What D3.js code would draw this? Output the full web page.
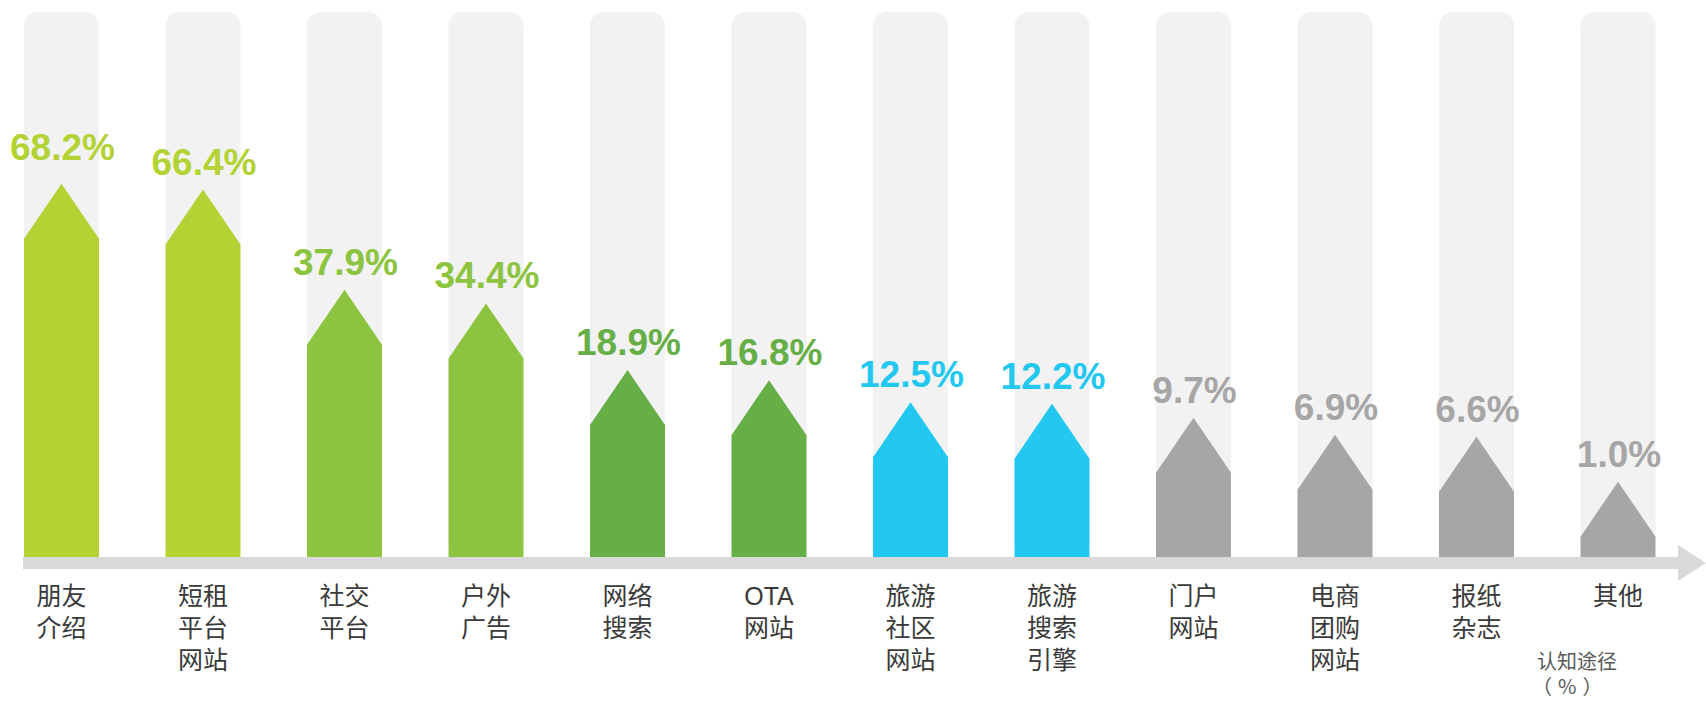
<!DOCTYPE html>
<html>
<head>
<meta charset="utf-8">
<script src="https://cdn.jsdelivr.net/npm/d3@7"></script>
<style>
  body { margin: 0; background: #fff; }
</style>
</head>
<body>
<div id="chart"></div>
<script>
// data
const categories = [
    ["朋友", "介绍"], ["短租", "平台", "网站"], ["社交", "平台"], ["户外", "广告"],
    ["网络", "搜索"], ["OTA", "网站"], ["旅游", "社区", "网站"], ["旅游", "搜索", "引擎"],
    ["门户", "网站"], ["电商", "团购", "网站"], ["报纸", "杂志"], ["其他"]
]
const values = [68.2, 66.4, 37.9, 34.4, 18.9, 16.8, 12.5, 12.2, 9.7, 6.9, 6.6, 1.0]
const axisTitle = ["认知途径", "（%）"]

const width = 1706
const height = 701
const baseY = 557
const barW = 75
const headH = 55

const svg = d3.select("#chart").append("svg")
    .attr("width", width)
    .attr("height", height)

const ids = d3.range(values.length)

const x = d3.scalePoint()
    .domain(ids)
    .range([61.5, 1618])

// the original is not drawn to scale, a power scale fits it best
const h = d3.scalePow()
    .exponent(0.7)
    .domain([0, 70])
    .range([4, 324])

const color = d3.scaleThreshold()
    .domain([12, 15, 30, 60])
    .range(["#a6a6a6", "#22c8f0", "#66ae46", "#8cc43f", "#b3d234"])

// background tracks
svg.append("g")
    .selectAll("rect")
    .data(ids)
    .join("rect")
    .attr("x", d => x(d) - barW / 2)
    .attr("y", 12)
    .attr("width", barW)
    .attr("height", baseY - 12)
    .attr("rx", 14)
    .attr("fill", "#f2f2f2")

// house shaped bars
svg.append("g")
    .selectAll("path")
    .data(ids)
    .join("path")
    .attr("d", i => {
        const cx = x(i)
        const top = baseY - h(values[i])
        const l = cx - barW / 2
        const r = cx + barW / 2
        return `M${l},${baseY}V${top}L${cx},${top - headH}L${r},${top}V${baseY}Z`
    })
    .attr("fill", i => color(values[i]))

// value labels
svg.append("g")
    .selectAll("text")
    .data(ids)
    .join("text")
    .attr("x", i => x(i) + 1)
    .attr("y", i => baseY - h(values[i]) - headH - (i === 0 ? 24 : 15))
    .attr("text-anchor", "middle")
    .attr("font-family", "'Liberation Sans', Arial, sans-serif")
    .attr("font-weight", "bold")
    .attr("font-size", 37)
    .attr("fill", i => color(values[i]))
    .text(i => values[i].toFixed(1) + "%")

// axis band with arrow
svg.append("rect")
    .attr("x", 23)
    .attr("y", baseY)
    .attr("width", 1678 - 23)
    .attr("height", 12)
    .attr("fill", "#d9d9d9")
svg.append("path")
    .attr("d", `M1678,545L1706,563L1678,581Z`)
    .attr("fill", "#d9d9d9")

// category labels
const cat = svg.append("g")
    .selectAll("text")
    .data(ids)
    .join("text")
    .attr("x", i => x(i))
    .attr("y", 605)
    .attr("text-anchor", "middle")
    .attr("font-family", "'Liberation Sans', 'Noto Sans CJK SC', sans-serif")
    .attr("font-size", 25)
    .attr("fill", "#3a3a3a")
cat.selectAll("tspan")
    .data(i => categories[i])
    .join("tspan")
    .attr("x", function () { return d3.select(this.parentNode).attr("x") })
    .attr("dy", (d, j) => j === 0 ? 0 : 32)
    .text(d => d)

// axis title, two lines
const title = svg.append("g")
    .attr("font-family", "'Noto Sans CJK SC', sans-serif")
    .attr("font-size", 20)
    .attr("fill", "#595959")
title.append("text")
    .attr("x", 1537)
    .attr("y", 669)
    .text(axisTitle[0])
title.append("text")
    .attr("x", 1532)
    .attr("y", 694)
    .attr("letter-spacing", 6)
    .text(axisTitle[1])
</script>
</body>
</html>
